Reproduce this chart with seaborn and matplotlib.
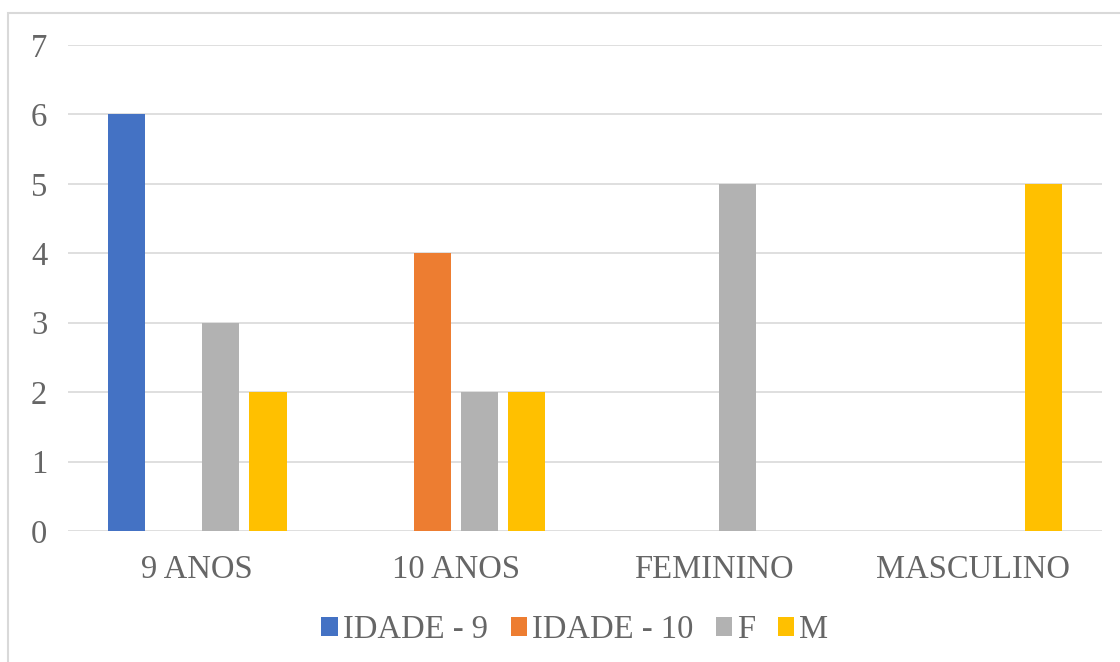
import matplotlib
matplotlib.use("Agg")
import matplotlib.pyplot as plt
import matplotlib.patches as mpatches
import seaborn as sns
import pandas as pd

categories = ["9 ANOS", "10 ANOS", "FEMININO", "MASCULINO"]
series = ["IDADE - 9", "IDADE - 10", "F", "M"]
idade_9 = [6, 0, 0, 0]
idade_10 = [0, 4, 0, 0]
f_vals = [3, 2, 5, 0]
m_vals = [2, 2, 0, 5]
colors = ["#4472C4", "#ED7D31", "#B2B2B2", "#FFC000"]
y_ticks = [0, 1, 2, 3, 4, 5, 6, 7]

rows = []
for s, vals in zip(series, [idade_9, idade_10, f_vals, m_vals]):
    for c, v in zip(categories, vals):
        rows.append({"cat": c, "serie": s, "valor": v})
df = pd.DataFrame(rows)

sns.set_style("white")
plt.rcParams["font.family"] = ["Liberation Serif", "DejaVu Serif"]

fig = plt.figure(figsize=(11.2, 6.62), dpi=100)
ax = fig.add_axes([68/1120, 1 - 531/662, 1034/1120, (531 - 45)/662])

sns.barplot(data=df, x="cat", y="valor", hue="serie", order=categories,
            hue_order=series, palette=colors, width=0.73, gap=0.21,
            ax=ax, legend=True, saturation=1, linewidth=0, edgecolor="none")

ax.set_ylim(0, 7)
ax.set_xlim(-0.5, 3.5)
ax.set_yticks(y_ticks)
ax.yaxis.grid(True, color="#D9D9D9", linewidth=1.2)
ax.set_axisbelow(True)
for sp in ax.spines.values():
    sp.set_visible(False)
ax.tick_params(axis="both", length=0, labelsize=23.5, labelcolor="#666666")
ax.tick_params(axis="y", pad=15)
ax.tick_params(axis="x", pad=17)
ax.set_xlabel("")
ax.set_ylabel("")

handles, labels = ax.get_legend_handles_labels()
ax.legend(handles, labels, loc="center", bbox_to_anchor=(575/1120, 1 - 630/662),
          bbox_transform=fig.transFigure, ncol=4, frameon=False, fontsize=23.5,
          labelcolor="#666666", handlelength=0.5, handleheight=0.5,
          handletextpad=0.15, columnspacing=0.7)

fig.patches.append(mpatches.Rectangle((8/1120, -0.2), 1.2, 1 - 13/662 + 0.2,
                                      transform=fig.transFigure, fill=False,
                                      edgecolor="#D9D9D9", linewidth=1.5))

fig.savefig("out.png", dpi=100, facecolor="white")
